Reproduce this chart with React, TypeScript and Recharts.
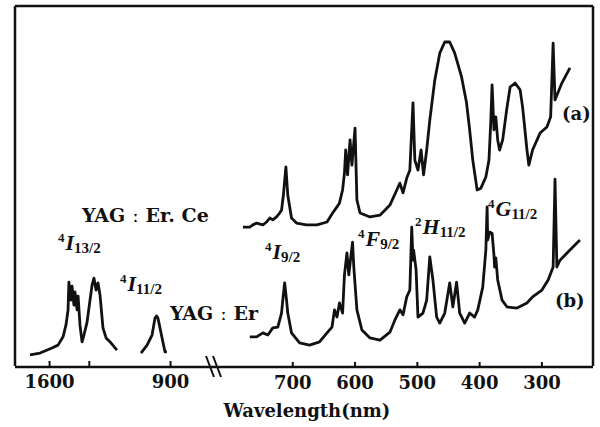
import React from 'react';
import { LineChart, Line, XAxis, YAxis, Label } from 'recharts';

// (a) YAG:Er,Ce — visible / near-UV part (nm, arb. absorbance)
const ceNm = [780, 769, 764, 758, 748, 742, 737, 732, 726, 721, 718, 715, 711, 708, 702, 694, 678, 661, 645, 636, 629, 625, 620, 617, 615, 612, 608, 605, 600, 597, 592, 576, 560, 544, 533, 528, 523, 517, 512, 507, 504, 499, 494, 490, 485, 480, 472, 464, 456, 448, 440, 429, 421, 416, 411, 404, 398, 390, 385, 382, 380, 377, 374, 371, 368, 363, 356, 351, 343, 335, 331, 324, 321, 315, 303, 292, 286, 282, 279, 268, 255];
const ceAbs = [38.6, 38.6, 39.2, 39.7, 39.2, 40.0, 41.1, 40.6, 41.4, 42.5, 43.3, 47.5, 55.3, 47.5, 41.1, 39.7, 39.2, 39.2, 40.0, 42.5, 44.2, 45.3, 48.9, 53.6, 60.0, 53.1, 62.8, 55.8, 66.1, 46.1, 42.5, 41.4, 41.9, 44.7, 48.9, 50.8, 48.1, 52.2, 54.4, 73.1, 57.2, 54.4, 60.0, 53.1, 60.0, 68.3, 79.4, 86.9, 90.0, 90.0, 86.9, 80.3, 73.1, 65.6, 57.2, 48.9, 49.4, 52.5, 57.2, 68.3, 78.1, 65.6, 69.2, 62.8, 60.0, 62.8, 71.9, 77.5, 78.6, 76.7, 71.9, 60.0, 55.8, 60.0, 64.7, 66.4, 69.2, 89.7, 73.9, 78.6, 82.8];

// (b) YAG:Er — visible / near-UV part
const erNm = [769, 758, 748, 740, 732, 724, 718, 716, 713, 710, 708, 702, 689, 673, 657, 645, 637, 633, 629, 625, 620, 617, 613, 610, 607, 604, 602, 597, 589, 576, 560, 544, 536, 528, 523, 517, 512, 509, 507, 506, 502, 499, 491, 485, 480, 475, 469, 464, 456, 448, 443, 437, 432, 424, 416, 408, 403, 395, 390, 388, 387, 384, 380, 377, 376, 374, 371, 364, 356, 340, 324, 315, 300, 290, 282, 279, 276, 271, 255, 239];
const erAbs = [8.1, 8.1, 9.2, 8.6, 10.6, 10.8, 14.7, 18.3, 23.1, 18.3, 14.7, 9.2, 6.4, 5.8, 6.7, 9.2, 10.8, 15.6, 13.6, 17.5, 14.7, 25.3, 31.4, 25.3, 30.0, 34.4, 27.5, 15.6, 10.0, 7.8, 7.2, 9.4, 12.8, 15.6, 14.2, 19.2, 21.1, 38.6, 29.4, 32.2, 26.7, 13.6, 14.7, 18.3, 30.3, 23.9, 13.6, 11.9, 14.7, 23.1, 16.4, 23.3, 14.7, 11.9, 14.7, 13.6, 15.6, 21.9, 32.2, 44.2, 35.0, 37.2, 36.9, 30.8, 27.5, 30.0, 23.9, 18.3, 16.4, 16.1, 17.5, 19.2, 21.1, 23.9, 27.5, 51.9, 27.5, 29.4, 32.2, 35.0];

// (b) YAG:Er — infrared bands 4I13/2 and 4I11/2
const i13Nm = [1713, 1655, 1586, 1551, 1522, 1505, 1493, 1488, 1476, 1470, 1459, 1453, 1441, 1435, 1424, 1412, 1401, 1383, 1366, 1354, 1343, 1331, 1320, 1308, 1291, 1273, 1250, 1210];
const i13Abs = [3.1, 3.6, 5.0, 5.8, 8.1, 11.4, 15.6, 23.3, 18.3, 22.2, 16.9, 20.6, 15.6, 19.4, 11.4, 6.7, 8.6, 12.2, 18.3, 22.5, 24.4, 21.1, 23.1, 19.7, 10.6, 7.8, 6.7, 4.4];
const i11Nm = [1071, 1036, 1007, 990, 981, 973, 949, 932, 921];
const i11Abs = [3.6, 5.8, 8.6, 13.3, 13.9, 13.3, 7.8, 3.9, 3.9];

const visTicks = [700, 600, 500, 400, 300];
const irTicks = [1600, 1370, 900];
const irTickLabels: Record<number, string> = { 1600: '1600', 900: '900' };

const rows = (nm: number[], abs: number[]) => nm.map((w, i) => ({ nm: w, abs: abs[i] }));

const INK = '#111';
const tickFont = { fill: INK, fontSize: 18, fontFamily: 'DejaVu Serif', fontWeight: 'bold' } as const;
const frame = { stroke: INK, strokeWidth: 2.5 };

function Level({ x, y, sup, main, sub }: { x: number; y: number; sup: string; main: string; sub: string }) {
    return (
        <text x={x} y={y} fill={INK} fontFamily="Liberation Serif" fontWeight="bold">
            <tspan fontSize={13} dy={-8}>{sup}</tspan>
            <tspan fontSize={22} fontStyle="italic" dy={8} dx={1}>{main}</tspan>
            <tspan fontSize={15} dy={3}>{sub}</tspan>
        </text>
    );
}

export default function App() {
    const line = { stroke: INK, strokeWidth: 2.8, dot: false, isAnimationActive: false, strokeLinejoin: 'round' as const };
    return (
        <div style={{ position: 'absolute', left: 0, top: 0, width: 600, height: 427, background: '#fff' }}>
            <LineChart width={600} height={427} margin={{ top: 5, right: 6, left: 14, bottom: 59 }}>
                <XAxis
                    xAxisId="ir"
                    type="number"
                    dataKey="nm"
                    domain={[880, 1800]}
                    reversed
                    padding={{ left: 0, right: 419 }}
                    ticks={irTicks}
                    interval={0}
                    tickFormatter={(v: number) => irTickLabels[v] ?? ''}
                    height={1}
                    tickSize={-5}
                    tickMargin={14}
                    tick={tickFont}
                    tickLine={{ stroke: INK, strokeWidth: 2 }}
                    axisLine={false}
                />
                <XAxis
                    xAxisId="vis"
                    type="number"
                    dataKey="nm"
                    domain={[218, 820]}
                    reversed
                    padding={{ left: 203, right: 0 }}
                    ticks={visTicks}
                    interval={0}
                    height={1}
                    tickSize={-5}
                    tickMargin={14}
                    tick={tickFont}
                    tickLine={{ stroke: INK, strokeWidth: 2 }}
                    axisLine={frame}
                >
                    <Label value="Wavelength(nm)" position="bottom" offset={36} dx={3} fill={INK} fontSize={18} fontFamily="DejaVu Serif" fontWeight="bold" />
                </XAxis>
                <XAxis xAxisId="top" orientation="top" type="number" domain={[0, 1]} height={1} tick={false} tickLine={false} axisLine={frame} />
                <YAxis yAxisId="y" type="number" domain={[0, 100]} width={1} tick={false} tickLine={false} axisLine={frame} />
                <YAxis yAxisId="r" orientation="right" type="number" domain={[0, 100]} width={1} tick={false} tickLine={false} axisLine={frame} />

                <Line xAxisId="ir" yAxisId="y" data={rows(i13Nm, i13Abs)} dataKey="abs" {...line} />
                <Line xAxisId="ir" yAxisId="y" data={rows(i11Nm, i11Abs)} dataKey="abs" {...line} />
                <Line xAxisId="vis" yAxisId="y" data={rows(erNm, erAbs)} dataKey="abs" {...line} />
                <Line xAxisId="vis" yAxisId="y" data={rows(ceNm, ceAbs)} dataKey="abs" {...line} />
            </LineChart>

            <svg width={600} height={427} style={{ position: 'absolute', left: 0, top: 0, pointerEvents: 'none' }}>
                {/* axis break */}
                <line x1={206} y1={356} x2={214} y2={377} stroke={INK} strokeWidth={2} />
                <line x1={213} y1={356} x2={221} y2={377} stroke={INK} strokeWidth={2} />

                <text x={82} y={222} fill={INK} fontSize={19} fontFamily="DejaVu Serif" fontWeight="bold">YAG ː Er. Ce</text>
                <text x={170} y={320} fill={INK} fontSize={19} fontFamily="DejaVu Serif" fontWeight="bold">YAG ː Er</text>
                <text x={562} y={120} fill={INK} fontSize={18} fontFamily="DejaVu Serif" fontWeight="bold">(a)</text>
                <text x={555} y={307} fill={INK} fontSize={18} fontFamily="DejaVu Serif" fontWeight="bold">(b)</text>

                <Level x={58} y={250} sup="4" main="I" sub="13/2" />
                <Level x={120} y={291} sup="4" main="I" sub="11/2" />
                <Level x={265} y={259} sup="4" main="I" sub="9/2" />
                <Level x={358} y={246} sup="4" main="F" sub="9/2" />
                <Level x={415} y={234} sup="2" main="H" sub="11/2" />
                <Level x={488} y={216} sup="4" main="G" sub="11/2" />
            </svg>
        </div>
    );
}
